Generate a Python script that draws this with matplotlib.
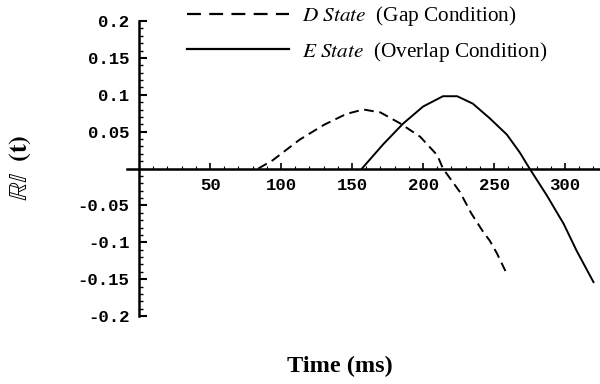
import matplotlib
matplotlib.use("Agg")
import matplotlib.pyplot as plt
from matplotlib.font_manager import FontProperties
from matplotlib.ticker import MultipleLocator, FixedLocator

plt.rcParams['lines.scale_dashes'] = False

# D State (Gap Condition) - dashed
d_t = [84, 94, 113, 130, 146, 158, 170, 184, 198, 210, 214, 226, 234, 242, 247, 252, 258]
d_v = [0.0, 0.011, 0.039, 0.059, 0.074, 0.080, 0.076, 0.061, 0.043, 0.018, 0.0,
       -0.032, -0.061, -0.085, -0.098, -0.115, -0.139]
# E State (Overlap Condition) - solid
e_t = [157, 172, 186, 200, 214, 224, 235, 247, 259, 268, 275, 287, 299, 308, 320]
e_v = [0.0, 0.033, 0.061, 0.084, 0.098, 0.098, 0.088, 0.068, 0.046, 0.022, 0.0,
       -0.036, -0.075, -0.111, -0.154]

x_ticks = [50, 100, 150, 200, 250, 300]
y_ticks = [-0.2, -0.15, -0.1, -0.05, 0.05, 0.1, 0.15, 0.2]
y_tick_labels = ['-0.2', '-0.15', '-0.1', '-0.05', '0.05', '0.1', '0.15', '0.2']

labels = [r'$\mathit{D\ State}$  (Gap Condition)',
          r'$\mathit{E\ State}$  (Overlap Condition)']

fig = plt.figure(figsize=(6, 3.84), dpi=100)
W, H = 600, 384
ax = fig.add_axes([127 / W, 1 - 316 / H, (600 - 127) / W, (316 - 21) / H])
ax.set_xlim(-8.5, 324.6)
ax.set_ylim(-0.2, 0.2)

ax.plot(d_t, d_v, color='black', lw=1.4, linestyle=(0, (7, 4)))
ax.plot(e_t, e_v, color='black', lw=1.4)

for s in ['top', 'right']:
    ax.spines[s].set_visible(False)
ax.spines['left'].set_position(('data', 0))
ax.spines['bottom'].set_position(('data', 0))
ax.spines['left'].set_linewidth(1.8)
ax.spines['bottom'].set_linewidth(1.8)

tickfont = dict(family='Liberation Mono', weight='bold', size=12.5)
ax.xaxis.set_major_locator(FixedLocator(x_ticks))
ax.set_xticklabels([str(v) for v in x_ticks], fontdict=tickfont)
ax.xaxis.set_minor_locator(MultipleLocator(10))
ax.yaxis.set_major_locator(FixedLocator(y_ticks))
ax.set_yticklabels(y_tick_labels, fontdict=tickfont)
ax.yaxis.set_minor_locator(MultipleLocator(0.01))
ax.tick_params(axis='x', which='major', direction='in', length=4, width=1.2, pad=7)
ax.tick_params(axis='x', which='minor', direction='in', length=2, width=0.8)
ax.tick_params(axis='y', which='major', direction='in', length=6, width=1.5, pad=7)
ax.tick_params(axis='y', which='minor', direction='in', length=3, width=1.0)

prop = FontProperties(family='Liberation Serif', size=15.3, math_fontfamily='stix')
leg = fig.legend(labels, loc='upper left', bbox_to_anchor=(187 / W, 1 - 4 / H),
                 frameon=False, prop=prop, handlelength=4.8, handletextpad=0.6,
                 labelspacing=0.55, borderpad=0, borderaxespad=0)
for h in leg.get_lines():
    h.set_linewidth(1.6)
leg.get_lines()[0].set_linestyle((0, (10, 6)))

fig.text(20 / W, 1 - 168 / H, r'$\mathbb{RI}\ \ \mathbf{(t)}$', rotation=90,
         ha='center', va='center', fontsize=19, math_fontfamily='stix')
fig.text(340 / W, 1 - 366 / H, 'Time (ms)', ha='center', va='center',
         family='Liberation Serif', weight='bold', fontsize=17.5)

fig.savefig('out.png', dpi=100)
